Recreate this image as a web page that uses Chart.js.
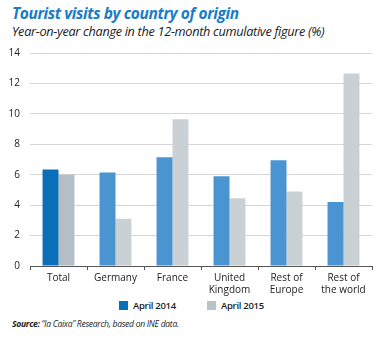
<!DOCTYPE html>
<html>
<head>
<meta charset="utf-8">
<script src="https://cdn.jsdelivr.net/npm/chart.js@4/dist/chart.umd.min.js"></script>
<style>
  html, body { margin: 0; padding: 0; background: #fff; }
  body { width: 379px; height: 338px; position: relative; overflow: hidden; font-family: "Open Sans", "Noto Sans", sans-serif; }
  #title { position: absolute; left: 12px; top: 2px; font-size: 15.5px; font-weight: bold; font-style: italic; color: #1b7bc6; letter-spacing: -0.4px; white-space: nowrap; }
  #subtitle { position: absolute; left: 12px; top: 22px; font-size: 12.7px; font-style: italic; color: #222; letter-spacing: -0.3px; white-space: nowrap; }
  #wrap { position: absolute; left: 0; top: 37px; width: 379px; height: 261px; }
  #legend { position: absolute; top: 299px; left: 0; width: 379px; height: 14px; font-size: 9.5px; color: #222; }
  .li { position: absolute; top: 0; display: flex; align-items: center; white-space: nowrap; font-weight: 600; letter-spacing: -0.3px; }
  .sw { width: 9px; height: 9px; margin-right: 5px; }
  #source { position: absolute; left: 12px; top: 318px; font-size: 8.6px; font-style: italic; color: #222; white-space: nowrap; letter-spacing: -0.3px; }
</style>
</head>
<body>
<div id="title">Tourist visits by country of origin</div>
<div id="subtitle">Year-on-year change in the 12-month cumulative figure (%)</div>
<div id="wrap"><canvas id="c"></canvas></div>
<div id="legend">
  <div class="li" style="left:119px"><span class="sw" style="background:#0a6fb8"></span><span id="l1"></span></div>
  <div class="li" style="left:207px"><span class="sw" style="background:#b9c4c9"></span><span id="l2"></span></div>
</div>
<div id="source"><b>Source:</b> “la Caixa” Research, based on INE data.</div>
<script>
const categories = [["Total"], ["Germany"], ["France"], ["United", "Kingdom"], ["Rest of", "Europe"], ["Rest of", "the world"]];
const seriesNames = ["April 2014", "April 2015"];
const april2014 = [6.35, 6.15, 7.15, 5.9, 6.95, 4.2];
const april2015 = [6.0, 3.1, 9.65, 4.45, 4.9, 12.65];
const yTicks = [0, 2, 4, 6, 8, 10, 12, 14];

document.getElementById('l1').textContent = seriesNames[0];
document.getElementById('l2').textContent = seriesNames[1];

const blue = april2014.map((v, i) => i === 0 ? '#0a6fb8' : '#4b94d2');
const grey = april2015.map((v, i) => i === 0 ? '#b3bfc4' : '#c9d1d5');

new Chart(document.getElementById('c'), {
  type: 'bar',
  data: {
    labels: categories,
    datasets: [
      { label: seriesNames[0], data: april2014, backgroundColor: blue, borderWidth: 0 },
      { label: seriesNames[1], data: april2015, backgroundColor: grey, borderWidth: 0 }
    ]
  },
  options: {
    responsive: true,
    maintainAspectRatio: false,
    animation: false,
    devicePixelRatio: 1,
    categoryPercentage: 0.56,
    barPercentage: 1.0,
    layout: { padding: { top: 4, right: 7, left: 0, bottom: 0 } },
    plugins: { legend: { display: false }, tooltip: { enabled: false } },
    scales: {
      x: {
        grid: { display: true, drawOnChartArea: false, drawTicks: true, tickLength: 4, color: '#555', lineWidth: 1, offset: true },
        border: { display: true, color: '#555', width: 1 },
        ticks: { color: '#222', font: { family: '"Open Sans", "Noto Sans", sans-serif', size: 10 }, padding: 2, maxRotation: 0, autoSkip: false }
      },
      y: {
        min: 0, max: 14,
        afterBuildTicks: (s) => { s.ticks = yTicks.map(v => ({ value: v })); },
        afterFit: (s) => { s.width = 30; },
        grid: { color: '#d6d6d6', lineWidth: 1, drawTicks: false },
        border: { display: false },
        ticks: { color: '#222', font: { family: '"Open Sans", "Noto Sans", sans-serif', size: 10 }, padding: 10 }
      }
    }
  }
});
</script>
</body>
</html>
